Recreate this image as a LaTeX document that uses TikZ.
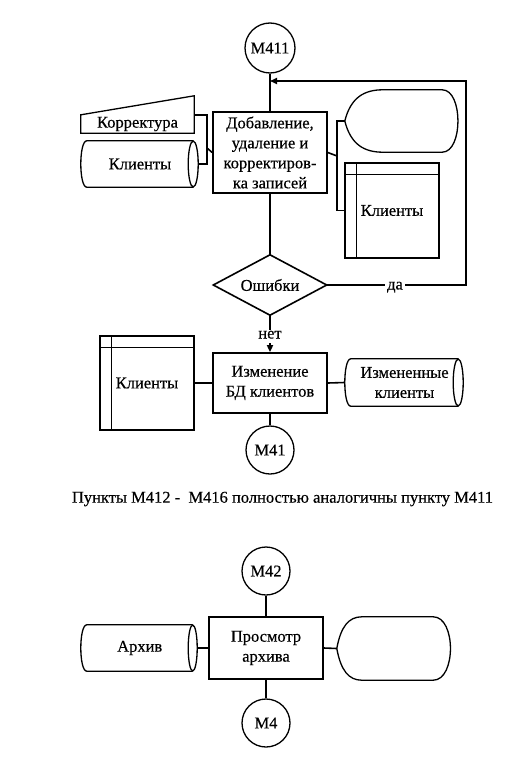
\documentclass[tikz,border=0pt]{standalone}
\usepackage{fontspec}
\setmainfont[FakeBold=0.4]{Liberation Serif}
\usetikzlibrary{arrows.meta,calc}
\newcommand\cylsh[3]{%
  \draw[sh] (#1.north west) -- (#1.north east) (#1.south west) -- (#1.south east)
    (#1.north west) .. controls ($(#1.north west)+(-8,0)$) and ($(#1.south west)+(-8,0)$) .. (#1.south west);
  \draw[sh] (#1.east) ellipse [x radius=#2pt, y radius=#3pt];
}
\newcommand\istsh[1]{%
  \draw[sh] ($(#1.north west)+(12,0)$) -- ($(#1.south west)+(12,0)$)
            ($(#1.north west)+(0,12)$) -- ($(#1.north east)+(0,12)$);
}
\begin{document}
\begin{tikzpicture}[x=1pt,y=-1pt,
  every node/.style={font=\fontsize{16.5}{20}\selectfont, inner sep=0pt, align=center},
  ln/.style={line width=1.6pt},
  sh/.style={line width=1.3pt},
  tip/.style={-{Triangle[length=7pt,width=6pt]}},
  proc/.style={draw, line width=1.7pt, minimum width=114pt},
  conn/.style={circle, draw, line width=1.3pt, minimum size=48pt},
  hid/.style 2 args={minimum width=#1pt, minimum height=#2pt},
  ist/.style 2 args={draw, line width=1.3pt, minimum width=#1pt, minimum height=#2pt},
  lbl/.style={fill=white, inner xsep=2pt, inner ysep=1pt, text height=8pt, text depth=3pt}
]
\useasboundingbox (0,0) rectangle (525,760);
\fill[white] (0,0) rectangle (525,760);

% ---------- section 1 ----------
\node[conn, minimum size=50pt] (m411) at (270,48) {М411};
\coordinate (fb) at (270,81);
\node[proc, minimum height=81pt] (box1) at (270,152.5) {Добавление,\\удаление и\\корректиров-\\ка записей};

% manual input "Корректура"
\node[hid={113}{18}] (korr) at (137.5,124) {Корректура};
\draw[sh] (korr.south west) -- (korr.south east) -- ($(korr.north east)+(0,-19)$) -- (korr.north west) -- cycle;

% cylinder "Клиенты"
\node[hid={106}{46}] (cyl1) at (140,164) {Клиенты};
\cylsh{cyl1}{5}{23}

% left bracket
\coordinate (brL) at (207,148);
\draw[ln] (korr.north east) -- (brL |- korr.north east) -- (brL |- cyl1.east) -- ($(cyl1.east)+(5,0)$);
\draw[ln] (brL) -- (box1.west);

% display (right, top)
\node[hid={113}{62}] (disp1) at (401.5,121) {};
\draw[sh] (disp1.west) .. controls ($(disp1.west)+(6,-24)$) and ($(disp1.north west)+(20,0)$) .. ($(disp1.north west)+(38,0)$)
  -- ($(disp1.north east)+(-16,0)$) .. controls ($(disp1.north east)+(5,0)$) and ($(disp1.south east)+(5,0)$) .. ($(disp1.south east)+(-16,0)$)
  -- ($(disp1.south west)+(38,0)$) .. controls ($(disp1.south west)+(20,0)$) and ($(disp1.west)+(6,24)$) .. (disp1.west);

% internal storage (right)
\node[ist={94}{95}] (ist1) at (392,210.5) {Клиенты};
\istsh{ist1}

% right bracket
\coordinate (brR) at (337,156);
\draw[ln] (disp1.west) -- (brR |- disp1.west) -- (brR |- ist1.west) -- (ist1.west);
\draw[ln] (box1.east) -- (brR);

% decision
\node[hid={113}{60}] (d1) at (270,285) {Ошибки};
\draw[ln] (d1.north) -- (d1.east) -- (d1.south) -- (d1.west) -- cycle;
\draw[ln] (m411) -- (box1);
\draw[ln] (box1) -- (d1.north);

% feedback "да"
\coordinate (fbc) at (466,285);
\draw[ln,tip] (d1.east) -- (fbc) |- (fb);
\node[lbl] (yes) at (395,287) {да};

% ---------- section 2 ----------
\node[proc, minimum height=60pt] (box2) at (270,383) {Изменение\\БД клиентов};
\draw[ln,tip] (d1.south) -- (box2.north);
\node[lbl] (no) at (270,336) {нет};

\node[ist={94}{94}] (ist2) at (147,383) {Клиенты};
\istsh{ist2}
\draw[ln] (ist2.east) -- (box2.west);

\node[hid={107}{47}] (cyl2) at (404.5,382.5) {Измененные\\клиенты};
\cylsh{cyl2}{5}{23.5}
\coordinate (cyl2in) at ($(cyl2.west)+(-6,0)$);
\draw[ln] (box2.east) -- (cyl2in);

\node[conn] (m41) at (270,450) {М41};
\draw[ln] (box2) -- (m41);

% caption
\node (cap) at (282.5,499) {Пункты М412 - \ М416 полностью аналогичны пункту М411};

% ---------- section 3 ----------
\node[conn] (m42) at (266,571) {М42};
\node[proc, minimum height=62pt] (box3) at (266,648) {Просмотр\\архива};
\draw[ln] (m42) -- (box3);

\node[hid={105.5}{46}] (cyl3) at (139.75,648) {Архив};
\cylsh{cyl3}{4.5}{23}
\coordinate (cyl3out) at ($(cyl3.east)+(4.5,0)$);
\draw[ln] (cyl3out) -- (box3.west);

\node[hid={113}{63}] (disp2) at (393.5,648.5) {};
\draw[sh] (disp2.west) .. controls ($(disp2.west)+(4,-22)$) and ($(disp2.north west)+(12,0)$) .. ($(disp2.north west)+(25,0)$)
  -- ($(disp2.north east)+(-17,0)$) .. controls ($(disp2.north east)+(6,0)$) and ($(disp2.south east)+(6,0)$) .. ($(disp2.south east)+(-17,0)$)
  -- ($(disp2.south west)+(25,0)$) .. controls ($(disp2.south west)+(12,0)$) and ($(disp2.west)+(4,22)$) .. (disp2.west);
\draw[ln] (box3.east) -- (disp2.west);

\node[conn] (m4) at (266,723) {М4};
\draw[ln] (box3) -- (m4);
\end{tikzpicture}
\end{document}
